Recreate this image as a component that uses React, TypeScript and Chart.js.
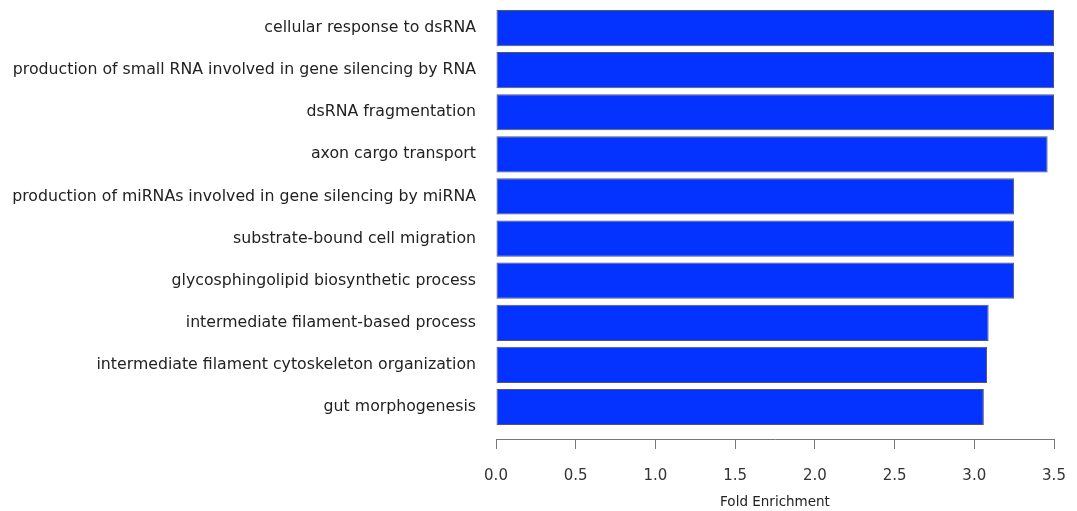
import React, { useEffect, useRef } from "react";
import { Chart, registerables } from "chart.js";

Chart.register(...registerables);

const terms: string[] = [
  "cellular response to dsRNA",
  "production of small RNA involved in gene silencing by RNA",
  "dsRNA fragmentation",
  "axon cargo transport",
  "production of miRNAs involved in gene silencing by miRNA",
  "substrate-bound cell migration",
  "glycosphingolipid biosynthetic process",
  "intermediate filament-based process",
  "intermediate filament cytoskeleton organization",
  "gut morphogenesis",
];

const foldEnrichment: number[] = [3.5, 3.5, 3.5, 3.46, 3.25, 3.25, 3.25, 3.09, 3.08, 3.06];

const xTicks: number[] = [0, 0.5, 1, 1.5, 2, 2.5, 3, 3.5];

export default function App() {
  const ref = useRef<HTMLCanvasElement | null>(null);

  useEffect(() => {
    const prevMargin = document.body.style.margin;
    document.body.style.margin = "0";
    if (!ref.current) return;
    const font = "'DejaVu Sans', 'Liberation Sans', Arial, sans-serif";
    const chart = new Chart(ref.current, {
      type: "bar",
      data: {
        datasets: [
          {
            label: "Fold Enrichment",
            data: foldEnrichment.map((v, i) => ({ x: v, y: i })),
            backgroundColor: "#0433ff",
            borderColor: "#555566",
            borderWidth: 1,
            borderSkipped: false,
            barPercentage: 0.86,
            categoryPercentage: 1,
          },
        ],
      },
      options: {
        indexAxis: "y",
        animation: false,
        responsive: false,
        maintainAspectRatio: false,
        layout: { padding: { top: 7, right: 23, left: 0, bottom: 0 } },
        plugins: { legend: { display: false }, tooltip: { enabled: false } },
        scales: {
          y: {
            type: "linear",
            reverse: true,
            offset: false,
            min: -0.5,
            max: 9.76,
            grid: { display: false, drawTicks: false, tickLength: 0 },
            border: { display: false },
            afterBuildTicks: (scale: any) => {
              scale.ticks = terms.map((_, i) => ({ value: i }));
            },
            afterFit: (scale: any) => {
              scale.width = 496;
              scale.paddingTop = 0;
              scale.paddingBottom = 0;
            },
            ticks: {
              autoSkip: false,
              padding: 20,
              color: "#222222",
              font: { family: font, size: 15.75 },
              callback: (v: any) => terms[Number(v)] ?? "",
            },
          },
          x: {
            type: "linear",
            min: 0,
            max: 3.5,
            afterBuildTicks: (scale: any) => {
              scale.ticks = xTicks.map((v) => ({ value: v }));
            },
            afterFit: (scale: any) => {
              scale.height = 72;
              scale.paddingLeft = 0;
              scale.paddingRight = 0;
            },
            grid: {
              display: true,
              drawOnChartArea: false,
              drawTicks: true,
              tickLength: 10,
              color: "#777777",
              lineWidth: 1,
            },
            border: { display: true, color: "#777777", width: 1 },
            ticks: {
              padding: 18,
              color: "#333333",
              font: { family: font, size: 15 },
              maxRotation: 0,
              callback: (v: any) => Number(v).toFixed(1),
            },
            title: {
              display: true,
              text: "Fold Enrichment",
              color: "#222222",
              font: { family: font, size: 13.5 },
              padding: { top: 7, bottom: 0 },
            },
          },
        },
      },
    });
    return () => {
      chart.destroy();
      document.body.style.margin = prevMargin;
    };
  }, []);

  return (
    <div style={{ width: 1077, height: 511, background: "#ffffff" }}>
      <canvas ref={ref} width={1077} height={511} style={{ display: "block" }} />
    </div>
  );
}
